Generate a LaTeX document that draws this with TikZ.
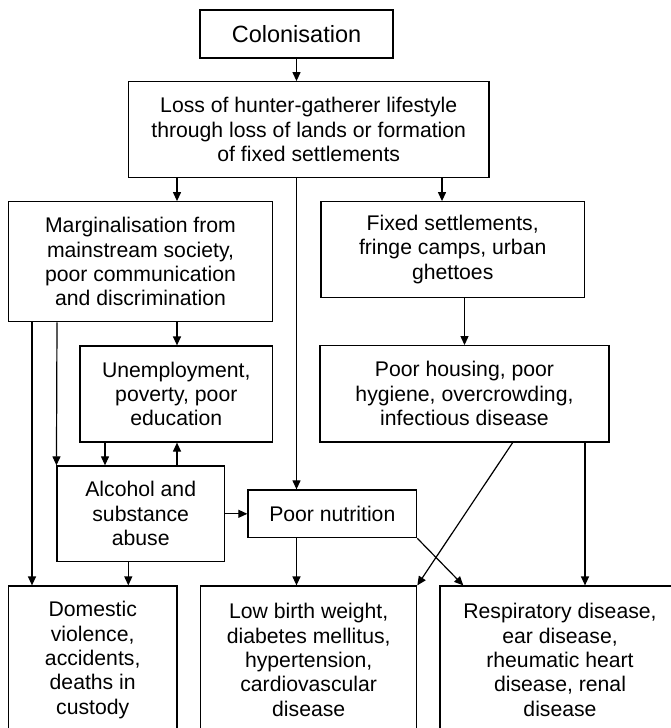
\documentclass[tikz,border=0pt]{standalone}
\usepackage{fontspec}
\setmainfont{Liberation Sans}
\usetikzlibrary{arrows.meta}
\begin{document}
\begin{tikzpicture}[x=1pt,y=-1pt,
  box/.style={draw, line width=1.2pt, inner sep=0pt, align=center, font=\fontsize{21.2}{24.4}\selectfont},
  arr/.style={line width=1.2pt, -{Triangle[length=9pt,width=8pt]}}]
\useasboundingbox (0,0) rectangle (670,728);
\node[box, minimum width=193pt, minimum height=48pt, font=\fontsize{23.5}{27}\selectfont] (colon) at (296.5,34) {Colonisation};
\node[box, minimum width=360.7pt, minimum height=95.6pt] (loss) at (308.7,129.5) {Loss of hunter-gatherer lifestyle\\through loss of lands or formation\\of fixed settlements};
\node[box, minimum width=264.4pt, minimum height=120pt] (marg) at (140.5,261.7) {Marginalisation from\\mainstream society,\\poor communication\\and discrimination};
\node[box, minimum width=263.3pt, minimum height=95.6pt] (fixed) at (452.7,249.5) {Fixed settlements,\\fringe camps, urban\\ghettoes};
\node[box, minimum width=192.7pt, minimum height=96pt] (unemp) at (176.3,394) {Unemployment,\\poverty, poor\\education};
\node[box, minimum width=289pt, minimum height=96.3pt] (housing) at (464.5,393.8) {Poor housing, poor\\hygiene, overcrowding,\\infectious disease};
\node[box, minimum width=167.3pt, minimum height=95.7pt] (alcohol) at (140.7,513.8) {Alcohol and\\substance\\abuse};
\node[box, minimum width=168.7pt, minimum height=47.7pt] (nutr) at (332.3,513.8) {Poor nutrition};
\node[box, minimum width=168.7pt, minimum height=148pt] (dom) at (92.7,660) {Domestic\\violence,\\accidents,\\deaths in\\custody};
\node[box, minimum width=216pt, minimum height=148pt] (low) at (308.7,660) {Low birth weight,\\diabetes mellitus,\\hypertension,\\cardiovascular\\disease};
\node[box, minimum width=240pt, minimum height=148pt] (resp) at (560,660) {Respiratory disease,\\ear disease,\\rheumatic heart\\disease, renal\\disease};

\coordinate (cA) at (296.5,0);
\coordinate (cM) at (177,0);
\coordinate (cF) at (442,0);
\coordinate (cL1) at (32,0);
\coordinate (cL2) at (57,0);
\coordinate (cU) at (105,0);
\coordinate (cD) at (128.3,0);
\coordinate (cR) at (585,0);
\coordinate (hs) at (512.7,0);
\coordinate (rin) at (463.3,0);

\draw[arr] (colon.south -| cA) -- (loss.north -| cA);
\draw[arr] (loss.south -| cM) -- (marg.north -| cM);
\draw[arr] (loss.south -| cF) -- (fixed.north -| cF);
\draw[arr] (loss.south -| cA) -- (nutr.north -| cA);
\draw[arr] (fixed.south -| housing.north) -- (housing.north);
\draw[arr] (marg.south -| cM) -- (unemp.north -| cM);
\draw[arr] (marg.south -| cL1) -- (dom.north -| cL1);
\draw[arr] (marg.south -| cL2) -- (alcohol.north west);
\draw[arr] (unemp.south -| cU) -- (alcohol.north -| cU);
\draw[arr] (alcohol.north -| cM) -- (unemp.south -| cM);
\draw[arr] (alcohol) -- (nutr);
\draw[arr] (alcohol.south -| cD) -- (dom.north -| cD);
\draw[arr] (nutr.south -| cA) -- (low.north -| cA);
\draw[arr] (nutr.south east) -- (resp.north -| rin);
\draw[arr] (housing.south -| hs) -- (low.north east);
\draw[arr] (housing.south -| cR) -- (resp.north -| cR);
\end{tikzpicture}
\end{document}
